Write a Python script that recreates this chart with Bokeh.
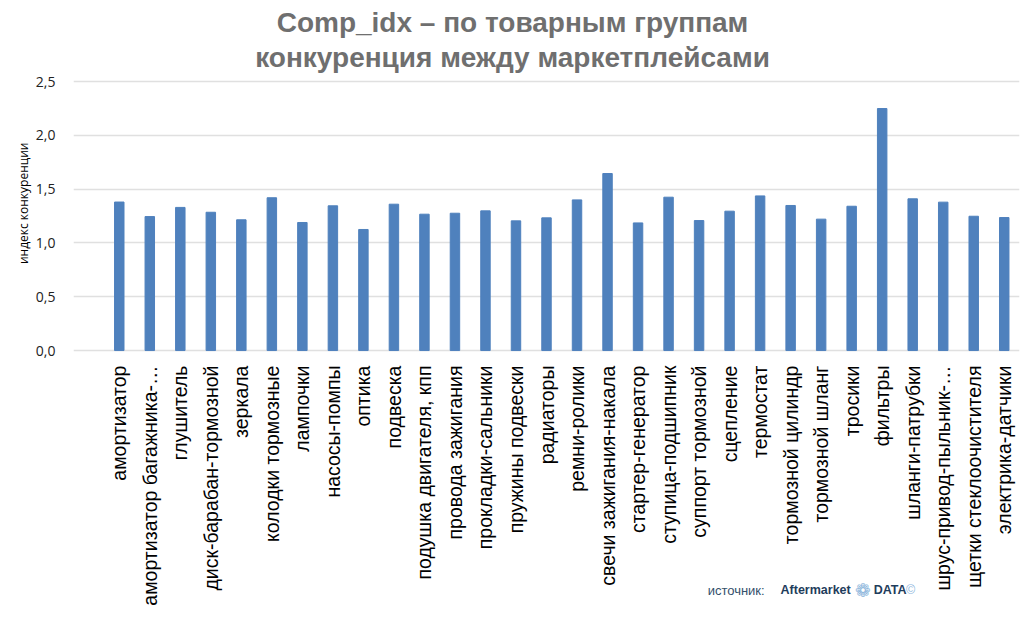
import math
from bokeh.plotting import figure
from bokeh.models import (Range1d, FixedTicker, CustomJSTickFormatter, Title, Label,
                          ColumnDataSource)
from bokeh.core.properties import value
from bokeh.embed import file_html
from bokeh.resources import INLINE

categories = [
    "амортизатор", "амортизатор багажника-…", "глушитель", "диск-барабан-тормозной",
    "зеркала", "колодки тормозные", "лампочки", "насосы-помпы", "оптика", "подвеска",
    "подушка двигателя, кпп", "провода зажигания", "прокладки-сальники", "пружины подвески",
    "радиаторы", "ремни-ролики", "свечи зажигания-накала", "стартер-генератор",
    "ступица-подшипник", "суппорт тормозной", "сцепление", "термостат",
    "тормозной цилиндр", "тормозной шланг", "тросики", "фильтры", "шланги-патрубки",
    "шрус-привод-пыльник-…", "щетки стеклоочистителя", "электрика-датчики",
]
comp_idx = [
    1.38, 1.245, 1.33, 1.285, 1.215, 1.42, 1.19, 1.345, 1.125, 1.36,
    1.267, 1.276, 1.298, 1.205, 1.233, 1.40, 1.645, 1.186, 1.425, 1.208,
    1.295, 1.437, 1.348, 1.221, 1.341, 2.249, 1.41, 1.379, 1.248, 1.236,
]
y_ticks = [0.0, 0.5, 1.0, 1.5, 2.0, 2.5]
title_line1 = "Comp_idx – по товарным группам"
title_line2 = "конкуренция между маркетплейсами"
y_label = "индекс конкуренции"
credit_parts = ["источник:", "Aftermarket", "❁", "DATA", "©"]

positions = list(range(1, len(categories) + 1))
bars = ColumnDataSource(dict(x=positions, top=comp_idx))
labels = ColumnDataSource(dict(x=positions, y=[0.0] * len(positions), text=categories))

# frame spans the full canvas height so that title, category labels and credit
# can all be placed in data space
p = figure(width=1020, height=610, output_backend="svg", toolbar_location=None,
           x_range=Range1d(-0.5, len(categories) + 0.5), y_range=Range1d(-2.416, 3.253),
           x_axis_location=None,
           min_border_left=73, min_border_right=1, min_border_top=0, min_border_bottom=0)
p.outline_line_color = None
p.background_fill_color = "white"
p.xgrid.grid_line_color = None

p.vbar(x="x", top="top", width=0.31, bottom=0, source=bars,
       fill_color="#4f81bd", line_color="#4f81bd")

# category labels under the zero line
p.text(x="x", y="y", text="text", source=labels, angle=math.pi / 2,
       text_align="right", text_baseline="middle", y_offset=15,
       text_font=value("Liberation Sans"), text_font_size="19.5px", text_color="#000000")

# y axis
ya = p.yaxis[0]
ya.ticker = FixedTicker(ticks=y_ticks)
ya.formatter = CustomJSTickFormatter(code="return tick.toFixed(1).replace('.', ',');")
ya.axis_line_color = None
ya.major_tick_line_color = None
ya.minor_tick_line_color = None
ya.major_label_text_font = "Open Sans"
ya.major_label_text_font_size = "14px"
ya.major_label_text_color = "#222222"
ya.major_label_standoff = 12
p.ygrid.grid_line_color = "#e0e0e0"
p.ygrid.grid_line_width = 1.5

p.add_layout(Title(text=y_label, align="right", offset=142, text_font="Open Sans",
                   text_font_size="12px", text_font_style="normal",
                   text_color="#000000", standoff=2), "left")

# chart title
p.add_layout(Label(x=13.886, y=3.048, text=title_line1, text_font="Liberation Sans",
                   text_font_size="28px", text_font_style="bold", text_color="#6f6f6f",
                   text_align="center", text_baseline="middle"))
p.add_layout(Label(x=13.886, y=2.723, text=title_line2, text_font="Liberation Sans",
                   text_font_size="28px", text_font_style="bold", text_color="#6f6f6f",
                   text_align="center", text_baseline="middle"))

# source credit
p.add_layout(Label(x=20.28, y=-2.23, text=credit_parts[0], text_font="Liberation Sans",
                   text_font_size="13px", text_color="#34506b", text_baseline="middle"))
p.add_layout(Label(x=22.67, y=-2.23, text=credit_parts[1], text_font="Liberation Sans",
                   text_font_size="12.5px", text_font_style="bold", text_color="#1f3d5c",
                   text_baseline="middle"))
p.add_layout(Label(x=25.36, y=-2.23, text=credit_parts[2], text_font="DejaVu Sans",
                   text_font_size="19px", text_color="#8db6dc", text_align="center",
                   text_baseline="middle"))
p.add_layout(Label(x=25.72, y=-2.23, text=credit_parts[3], text_font="Liberation Sans",
                   text_font_size="12.5px", text_font_style="bold", text_color="#1f3d5c",
                   text_baseline="middle"))
p.add_layout(Label(x=26.78, y=-2.23, text=credit_parts[4], text_font="Liberation Sans",
                   text_font_size="12.5px", text_color="#8db6dc", text_baseline="middle"))

open("out.html", "w").write(file_html(p, INLINE))
